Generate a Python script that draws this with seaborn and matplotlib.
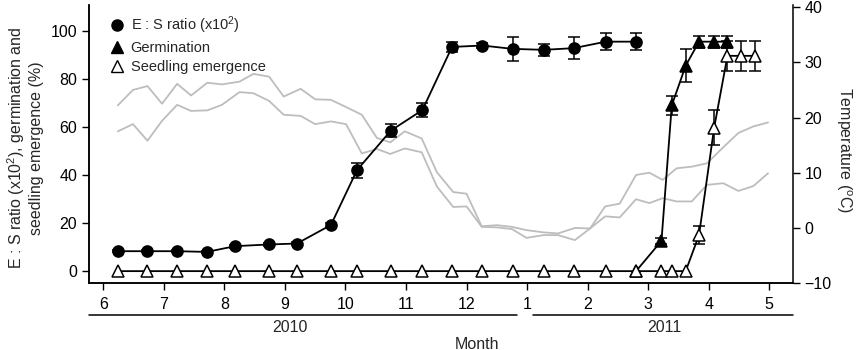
import numpy as np
import matplotlib
matplotlib.use('Agg')
import matplotlib.pyplot as plt
import matplotlib.transforms as mtransforms
from matplotlib.lines import Line2D
import seaborn as sns

# month axis: 6..12 = Jun-Dec 2010, 13..17 = Jan-May 2011
es_month = [6.24, 6.73, 7.22, 7.71, 8.18, 8.74, 9.20, 9.76, 10.19, 10.75,
            11.27, 11.76, 12.26, 12.76, 13.28, 13.77, 14.30, 14.80]
es_ratio = [8.3, 8.3, 8.3, 8.0, 10.4, 11.1, 11.5, 19.2, 42.0, 58.5,
            67.0, 93.3, 93.9, 92.5, 92.1, 92.8, 95.5, 95.5]
es_err = [0.5, 0.5, 0.5, 0.5, 0.6, 0.6, 0.6, 0.8, 3.2, 2.8,
          2.8, 2.2, 1.0, 5.0, 2.6, 4.5, 3.6, 3.6]

germ_month = [14.80, 15.22, 15.39, 15.62, 15.84, 16.08, 16.30]
germ_pct = [0.0, 12.6, 69.0, 85.5, 95.5, 95.5, 95.5]
germ_err = [0.0, 1.2, 4.0, 6.8, 2.5, 2.5, 2.5]

seed_month = es_month + [15.22, 15.39, 15.62, 15.84, 16.09, 16.31, 16.54, 16.77]
seed_pct = [0.0] * 18 + [0.0, 0.0, 0.0, 15.0, 59.7, 89.6, 89.6, 89.6]
seed_err = [0.0] * 18 + [0.0, 0.0, 0.0, 3.6, 7.3, 6.2, 6.2, 6.2]

temp_month = [6.24, 6.49, 6.73, 6.97, 7.22, 7.45, 7.72, 7.96, 8.25, 8.48,
              8.74, 8.98, 9.26, 9.50, 9.76, 10.01, 10.27, 10.52, 10.74, 10.98,
              11.26, 11.51, 11.78, 12.00, 12.25, 12.50, 12.75, 12.99, 13.27, 13.51,
              13.79, 14.04, 14.29, 14.53, 14.80, 15.02, 15.24, 15.47, 15.72, 15.97,
              16.24, 16.49, 16.74, 16.98]
temp_high = [22.2, 25.0, 25.7, 22.5, 26.1, 24.0, 26.3, 26.0, 26.5, 27.9,
             27.4, 23.8, 25.2, 23.3, 23.2, 21.9, 20.5, 16.3, 15.5, 17.5,
             16.2, 10.1, 6.5, 6.2, 0.3, 0.5, 0.2, -0.4, -0.8, -1.0,
             0.0, -0.1, 3.9, 4.4, 9.6, 10.0, 8.7, 10.8, 11.1, 11.7,
             14.6, 17.2, 18.4, 19.1]
temp_low = [17.5, 18.8, 15.8, 19.4, 22.3, 21.2, 21.3, 22.3, 24.6, 24.4,
            23.0, 20.5, 20.3, 18.8, 19.3, 18.8, 13.5, 14.3, 13.4, 14.4,
            13.7, 7.5, 3.8, 3.9, 0.2, 0.1, -0.2, -1.8, -1.3, -1.3,
            -2.2, -0.1, 2.1, 1.9, 5.2, 4.5, 5.4, 4.8, 4.8, 7.8,
            8.1, 6.7, 7.6, 9.9]

month_ticks = list(range(6, 18))
month_labels = ['6', '7', '8', '9', '10', '11', '12', '1', '2', '3', '4', '5']

sns.set_style('ticks')
plt.rcParams['font.family'] = ['Liberation Sans', 'DejaVu Sans']
plt.rcParams['mathtext.fontset'] = 'custom'
plt.rcParams['mathtext.rm'] = 'Liberation Sans'
plt.rcParams['mathtext.it'] = 'Liberation Sans:italic'

fs = 11.5
fig = plt.figure(figsize=(8.59, 3.5), dpi=100)
ax = fig.add_axes([0.1036, 0.191, 0.8194, 0.795])
ax2 = ax.twinx()

# temperature lines (behind)
grey = '#bdbdbd'
sns.lineplot(x=temp_month, y=temp_high, ax=ax2, color=grey, lw=1.3)
sns.lineplot(x=temp_month, y=temp_low, ax=ax2, color=grey, lw=1.3)
ax.set_zorder(ax2.get_zorder() + 1)
ax.patch.set_visible(False)


def err_bars(xs, ys, es):
    xs, ys, es = np.array(xs), np.array(ys), np.array(es)
    m = es > 0
    ax.errorbar(xs[m], ys[m], yerr=es[m], fmt='none', ecolor='black',
                elinewidth=1.1, capsize=4, capthick=1.1, zorder=2)


err_bars(es_month, es_ratio, es_err)
err_bars(germ_month, germ_pct, germ_err)
err_bars(seed_month, seed_pct, seed_err)

common = dict(ax=ax, color='black', lw=1.3, markersize=8,
              markeredgecolor='black', markeredgewidth=1.1, zorder=3)
sns.lineplot(x=es_month, y=es_ratio, marker='o', **common)
sns.lineplot(x=germ_month, y=germ_pct, marker='^', **common)
sns.lineplot(x=seed_month, y=seed_pct, marker='^', markerfacecolor='white', **common)

ax.set_xlim(5.764, 17.39)
ax.set_ylim(-5, 110.8)
ax2.set_ylim(-10, 40.4)
ax.set_xticks(month_ticks)
ax.set_xticklabels(month_labels)
ax.set_yticks([0, 20, 40, 60, 80, 100])
ax2.set_yticks([-10, 0, 10, 20, 30, 40])

for a in (ax, ax2):
    a.spines['top'].set_visible(False)
    a.tick_params(direction='out', length=5, width=1, labelsize=fs, colors='black')
    for s in a.spines.values():
        s.set_linewidth(1.1)
        s.set_color('black')
ax.spines['right'].set_visible(False)
ax.tick_params(axis='x', pad=5)
ax.set_ylabel('')
ax2.set_ylabel('')

# legend
handles = [
    Line2D([], [], ls='none', marker='o', color='black', markersize=8),
    Line2D([], [], ls='none', marker='^', color='black', markersize=8),
    Line2D([], [], ls='none', marker='^', color='black', markerfacecolor='white', markersize=8),
]
labels = ['E : S ratio (x10$^2$)', 'Germination', 'Seedling emergence']
ax.legend(handles, labels, loc='upper left', bbox_to_anchor=(0.03, 0.965),
          frameon=False, fontsize=10.5, handlelength=1.0, handletextpad=0.4,
          labelspacing=0.35, borderaxespad=0, borderpad=0)

# year brackets below the month axis
trans = mtransforms.blended_transform_factory(ax.transData, ax.transAxes)
ax.plot([5.764, 12.84], [-0.115, -0.115], transform=trans, clip_on=False, color='black', lw=1.1)
ax.plot([13.09, 17.39], [-0.115, -0.115], transform=trans, clip_on=False, color='black', lw=1.1)
ax.text(9.08, -0.176, '2010', transform=trans, ha='center', va='baseline', fontsize=fs)
ax.text(15.27, -0.176, '2011', transform=trans, ha='center', va='baseline', fontsize=fs)
ax.text(12.17, -0.235, 'Month', transform=trans, ha='center', va='baseline', fontsize=fs)

fig.text(0.029, 0.577, 'E : S ratio (x10$^2$), germination and\nseedling emergence (%)',
         rotation=90, ha='center', va='center', multialignment='center', fontsize=fs)
fig.text(0.982, 0.571, 'Temperature ($^{\\rm o}$C)', rotation=270,
         ha='center', va='center', fontsize=fs)

fig.savefig('out.png', dpi=100)
